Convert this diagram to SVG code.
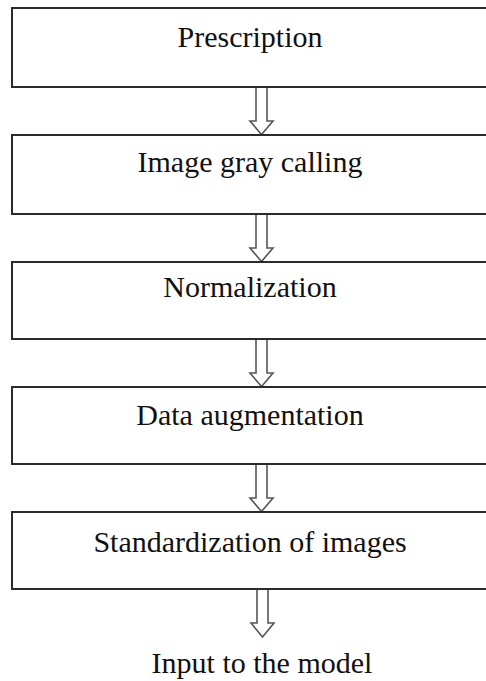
<svg xmlns="http://www.w3.org/2000/svg" width="486" height="681" viewBox="0 0 486 681">
<style>
.box{fill:#fff;stroke:#2b2b2b;stroke-width:2}
.lbl{font-family:"Liberation Serif","Times New Roman",serif;font-size:30px;fill:#111;text-anchor:middle}
.arr{fill:#fff;stroke:#555;stroke-width:1.6;stroke-linejoin:miter}
</style>
<rect width="486" height="681" fill="#fff"/>
<g id="connectors">
<path class="arr" d="M256,88 V121 H250 L261.5,134.5 L273,121 H267 V88"/>
<path class="arr" d="M256,215 V248 H250 L261.5,261.5 L273,248 H267 V215"/>
<path class="arr" d="M256,340 V373 H250 L261.5,386.5 L273,373 H267 V340"/>
<path class="arr" d="M256,465 V498 H250 L261.5,511.5 L273,498 H267 V465"/>
<path class="arr" d="M257,590 V623 H251 L262.5,637 L274,623 H268 V590"/>
</g>
<g id="n1"><rect class="box" x="12" y="8" width="480" height="79"/><text class="lbl" x="250" y="47">Prescription</text></g>
<g id="n2"><rect class="box" x="12" y="135" width="480" height="79"/><text class="lbl" x="250" y="172">Image gray calling</text></g>
<g id="n3"><rect class="box" x="12" y="262" width="480" height="77"/><text class="lbl" x="250" y="297">Normalization</text></g>
<g id="n4"><rect class="box" x="12" y="387" width="480" height="77"/><text class="lbl" x="250" y="425">Data augmentation</text></g>
<g id="n5"><rect class="box" x="12" y="512" width="480" height="77"/><text class="lbl" x="250" y="552">Standardization of images</text></g>
<g id="n6"><text class="lbl" x="262" y="673">Input to the model</text></g>
</svg>
